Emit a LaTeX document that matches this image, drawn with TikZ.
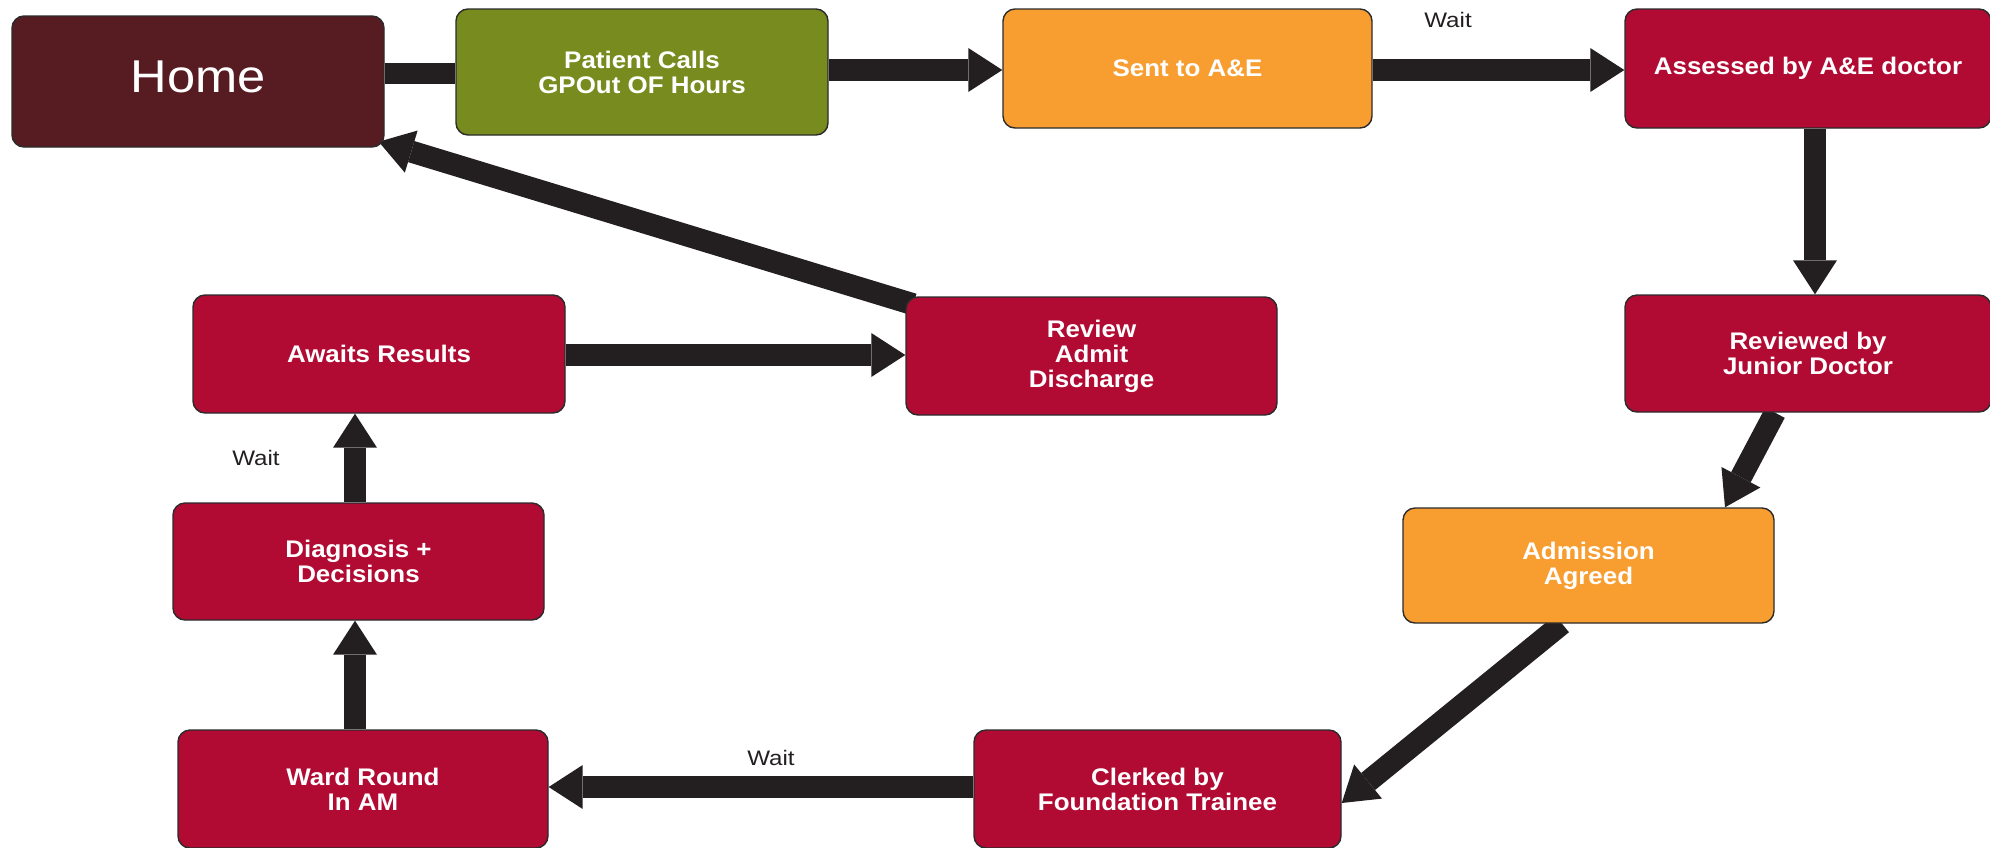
\documentclass[tikz,border=0pt]{standalone}
\usepackage{fontspec}
\setmainfont{Liberation Sans}
\newfontfamily\boxfont[FakeStretch=1.08]{Liberation Sans}
\newfontfamily\homefont[FakeStretch=1.1]{Liberation Sans}
\newfontfamily\waitfont[FakeStretch=1.15]{Liberation Sans}
\usetikzlibrary{arrows.meta}
\pgfdeclarelayer{bg}
\pgfsetlayers{bg,main}
\definecolor{homec}{HTML}{571C21}
\definecolor{greenc}{HTML}{788B1E}
\definecolor{orangec}{HTML}{F89E31}
\definecolor{redc}{HTML}{B10B34}
\definecolor{arrowc}{HTML}{231F20}
\definecolor{boxline}{HTML}{2B2B2B}
\tikzset{
  box/.style={draw=boxline, line width=1.4pt, rounded corners=12pt,
    minimum width=371pt, minimum height=118pt, inner sep=0pt,
    text=white, align=center,
    font=\boxfont\bfseries\fontsize{24}{25}\selectfont},
  redbox/.style={box, fill=redc},
  orangebox/.style={box, fill=orangec},
  arr/.style={draw=arrowc, line width=22pt,
    -{Triangle[width=44pt,length=34pt,line width=0pt]}},
  bar/.style={draw=arrowc, line width=21pt},
  waitlbl/.style={text=arrowc, inner sep=0pt,
    font=\waitfont\fontsize{21}{21}\selectfont},
}
\begin{document}
\begin{tikzpicture}[x=1pt, y=-1pt]
\useasboundingbox (0,0) rectangle (1990,847);

% boxes
\node[box, fill=homec, minimum width=372pt, minimum height=131pt,
      text depth=10pt, font=\homefont\fontsize{46}{46}\selectfont]
      (home) at (198,81.5) {Home};
\node[box, fill=greenc, minimum width=372pt, minimum height=126pt]
      (pc) at (642,72) {Patient Calls\\GPOut OF Hours};
\node[orangebox, minimum width=369pt, minimum height=119pt]
      (sent) at (1187.5,68.5) {Sent to A\&E};
\node[redbox, minimum width=366pt, minimum height=119pt]
      (assess) at (1808,68.5) {Assessed by A\&E doctor};
\node[redbox, minimum width=366pt, minimum height=117pt]
      (junior) at (1808,353.5) {Reviewed by\\Junior Doctor};
\node[orangebox, minimum width=371pt, minimum height=115pt]
      (admit) at (1588.5,565.5) {Admission\\Agreed};
\node[redbox, minimum width=367pt, minimum height=118pt]
      (clerk) at (1157.5,789) {Clerked by\\Foundation Trainee};
\node[redbox, minimum width=370pt, minimum height=118pt]
      (ward) at (363,789) {Ward Round\\In AM};
\node[redbox, minimum width=371pt, minimum height=117pt]
      (diag) at (358.5,561.5) {Diagnosis +\\Decisions};
\node[redbox, minimum width=372pt, minimum height=118pt]
      (await) at (379,354) {Awaits Results};
\node[redbox, minimum width=371pt, minimum height=118pt]
      (review) at (1091.5,356) {Review\\Admit\\Discharge};

% labels
\node[waitlbl] (w1) at (1448,20) {Wait};
\node[waitlbl] (w2) at (771,758) {Wait};
\node[waitlbl] (w3) at (256,458) {Wait};

% connectors
\begin{pgfonlayer}{bg}
\draw[bar] (home.east |- 0,73.5) -- (pc.west |- 0,73.5);
\draw[arr] (pc.east |- 0,70) -- (sent.west |- 0,70);
\draw[arr] (sent.east |- 0,70) -- (assess.west |- 0,70);
\draw[arr] (1815,0 |- assess.south) -- (1815,0 |- junior.north);
\draw[arr] (1775,0 |- junior.south) -- (1725,0 |- admit.north);
\draw[arr] (1562,0 |- admit.south) -- (clerk.east |- 0,803);
\draw[arr] (clerk.west |- 0,787) -- (ward.east |- 0,787);
\draw[arr] (355,0 |- ward.north) -- (355,0 |- diag.south);
\draw[arr] (355,0 |- diag.north) -- (355,0 |- await.south);
\draw[arr] (await.east |- 0,355) -- (review.west |- 0,355);
\draw[arr] ([shift={(8,8)}]review.north west) -- ([shift={(-6,-6)}]home.south east);
\end{pgfonlayer}
\end{tikzpicture}
\end{document}
